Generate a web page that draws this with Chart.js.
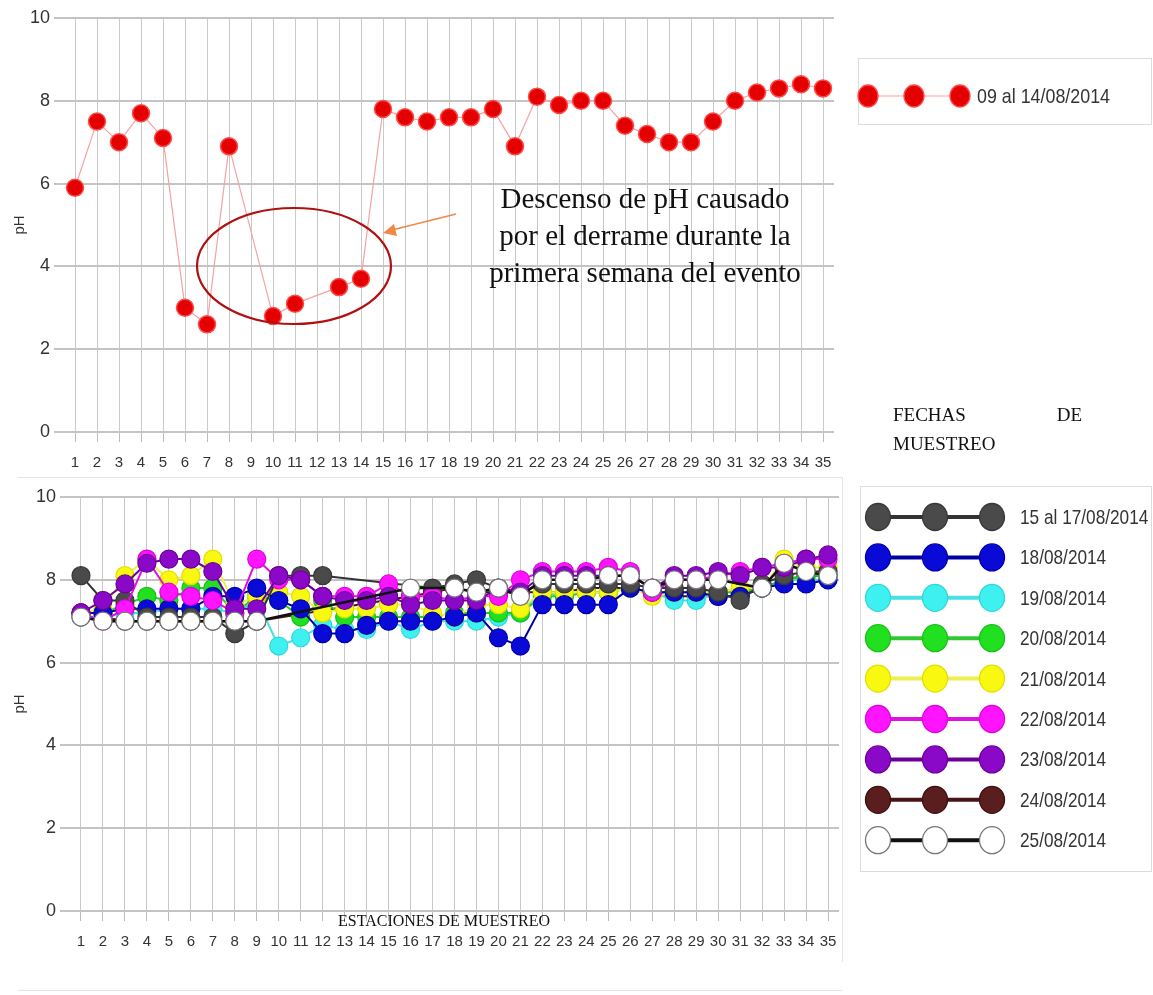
<!DOCTYPE html>
<html>
<head>
<meta charset="utf-8">
<script src="https://cdn.jsdelivr.net/npm/chart.js@4"></script>
<style>
body{margin:0;background:#fff;width:1153px;height:995px;position:relative;overflow:hidden;font-family:'Liberation Sans',Arial,sans-serif;}
canvas{position:absolute;}
.serif{position:absolute;font-family:'Liberation Serif','Times New Roman',serif;color:#111;}
.box{position:absolute;border:1px solid #dcdcdc;}
.legrow{position:absolute;font-size:21px;line-height:26px;color:#333;white-space:nowrap;transform:scaleX(0.83);transform-origin:0 50%;}
.rule{position:absolute;background:#e4e4e4;}
</style>
</head>
<body>
<div class="rule" style="left:18px;top:477px;width:824px;height:1px"></div>
<div class="rule" style="left:842px;top:477px;width:1px;height:485px"></div>
<div class="rule" style="left:18px;top:990px;width:824px;height:1px"></div>

<canvas id="top" width="845" height="475" style="left:0;top:0"></canvas>
<canvas id="bottom" width="850" height="481" style="left:0;top:470px"></canvas>

<div class="box" style="left:858px;top:58px;width:292px;height:65px"></div>
<div class="box" style="left:860px;top:486px;width:290px;height:384px"></div>
<svg id="legends" width="1153" height="995" style="position:absolute;left:0;top:0"></svg>

<div class="serif" style="left:470px;top:180px;width:350px;text-align:center;font-size:29px;line-height:37px">Descenso de pH causado<br>por el derrame durante la<br>primera semana del evento</div>
<div class="serif" style="left:893px;top:400px;width:189px;text-align:justify;font-size:19px;line-height:29px">FECHAS DE MUESTREO</div>
<div class="serif" style="left:338px;top:913px;font-size:16px;line-height:16px;white-space:nowrap">ESTACIONES DE MUESTREO</div>

<svg width="1153" height="995" style="position:absolute;left:0;top:0;pointer-events:none">
  <ellipse cx="294" cy="266" rx="97" ry="58" fill="none" stroke="#b01010" stroke-width="2.2"/>
  <line x1="456" y1="214" x2="392" y2="230" stroke="#f0884a" stroke-width="1.6"/>
  <polygon points="383,233 397,236 394,224" fill="#f0884a"/>
</svg>

<script>
const stations = ["1","2","3","4","5","6","7","8","9","10","11","12","13","14","15","16","17","18",
  "19","20","21","22","23","24","25","26","27","28","29","30","31","32","33","34","35"];
const yTicks = [0, 2, 4, 6, 8, 10];

// primera semana
const topLabel = "09 al 14/08/2014";
const phTop = [5.9, 7.5, 7.0, 7.7, 7.1, 3.0, 2.6, 6.9, null, 2.8, 3.1, null, 3.5, 3.7, 7.8, 7.6, 7.5,
  7.6, 7.6, 7.8, 6.9, 8.1, 7.9, 8.0, 8.0, 7.4, 7.2, 7.0, 7.0, 7.5, 8.0, 8.2, 8.3, 8.4, 8.3];

// fechas siguientes
const dates = ["15 al 17/08/2014", "18/08/2014", "19/08/2014", "20/08/2014", "21/08/2014",
  "22/08/2014", "23/08/2014", "24/08/2014", "25/08/2014"];
const ph15al17 = [8.1, 7.5, 7.5, 7.1, 7.1, 7.1, 7.1, 6.7, 7.0, 8.1, 8.1, 8.1, null, null, null, null, 7.8,
  7.9, 8.0, 7.8, 7.7, 7.9, 7.9, 7.9, 7.9, 7.9, 7.8, 7.8, 7.8, 7.7, 7.5, 7.9, 8.1, 8.2, 8.2];
const ph18 = [7.2, 7.2, 7.3, 7.3, 7.3, 7.3, 7.6, 7.6, 7.8, 7.5, 7.3, 6.7, 6.7, 6.9, 7.0, 7.0, 7.0,
  7.1, 7.2, 6.6, 6.4, 7.4, 7.4, 7.4, 7.4, 7.8, 7.7, 7.7, 7.7, 7.6, 7.6, 7.8, 7.9, 7.9, 8.0];
const ph19 = [7.1, 7.1, 7.2, 7.2, 7.3, 7.3, 7.3, 7.2, 7.5, 6.4, 6.6, 6.9, 6.8, 6.8, 7.0, 6.8, 7.0,
  7.0, 7.0, 7.1, 7.2, 7.7, 7.6, 7.7, 7.7, 7.8, 7.7, 7.5, 7.5, 7.7, 7.7, 7.8, 8.0, 8.0, 8.0];
const ph20 = [7.2, 7.2, 7.4, 7.6, 7.5, 7.8, 7.8, 7.2, 7.6, 7.5, 7.1, 7.5, 7.1, 7.1, 7.1, 7.1, 7.1,
  7.2, 7.2, 7.2, 7.2, 7.6, 7.6, 7.7, 7.7, 7.8, 7.7, 7.7, 7.7, 7.7, 7.7, 7.8, 8.0, 8.1, 8.1];
const ph21 = [7.2, 7.3, 8.1, 8.5, 8.0, 8.1, 8.5, 7.4, 7.6, 7.7, 7.6, 7.2, 7.3, 7.3, 7.4, 7.4, 7.2,
  7.1, 7.4, 7.4, 7.3, 7.7, 7.7, 7.7, 7.7, 7.8, 7.6, 7.7, 7.7, 7.7, 7.8, 7.8, 8.5, 8.3, 8.3];
const ph22 = [7.2, 7.0, 7.3, 8.5, 7.7, 7.6, 7.5, 7.2, 8.5, 8.0, 8.0, 7.6, 7.6, 7.6, 7.9, 7.6, 7.6,
  7.5, 7.6, 7.6, 8.0, 8.2, 8.2, 8.2, 8.3, 8.2, 7.7, 8.0, 8.0, 8.1, 8.2, 8.3, 8.4, 8.5, 8.5];
const ph23 = [7.2, 7.5, 7.9, 8.4, 8.5, 8.5, 8.2, 7.3, 7.3, 8.1, 8.0, 7.6, 7.5, 7.5, 7.6, 7.4, 7.5,
  7.5, 7.5, 7.8, 7.7, 8.1, 8.1, 8.1, 8.1, 8.1, 7.8, 8.1, 8.1, 8.2, 8.1, 8.3, 8.3, 8.5, 8.6];
const ph24 = [7.1, 7.1, 7.0, 7.0, 7.0, 7.0, 7.0, 7.0, 7.0, null, null, null, null, null, null, 7.6, 7.7,
  7.8, 7.7, 7.7, 7.7, 7.7, 7.7, 7.8, 7.8, 7.8, 7.7, 7.6, 7.6, 7.6, 7.6, 7.8, 8.0, 8.1, 8.1];
const ph25 = [7.1, 7.0, 7.0, 7.0, 7.0, 7.0, 7.0, 7.0, 7.0, null, null, null, null, null, null, 7.8, null,
  7.8, 7.7, 7.8, 7.6, 8.0, 8.0, 8.0, 8.1, 8.1, 7.8, 8.0, 8.0, 8.0, null, 7.8, 8.4, 8.2, 8.1];
const series = [ph15al17, ph18, ph19, ph20, ph21, ph22, ph23, ph24, ph25];

const fills = ["#4a4a4a", "#0a0ad6", "#3ff0f0", "#20e020", "#f8f810", "#ff14ff", "#8a08c8", "#5a1e1e", "#ffffff"];
const lines = ["#333333", "#0000a0", "#48e0e0", "#30c830", "#eeee50", "#e010e0", "#6a0098", "#4a1414", "#111111"];
const edges = ["#383838", "#0000b0", "#30d8d8", "#18c018", "#e0e000", "#e000e0", "#700098", "#401010", "#777777"];
const drawOrder = [4, 5, 8, 7, 6, 3, 2, 9, 1];

Chart.defaults.font.family = "'Liberation Sans',Arial,sans-serif";
Chart.defaults.color = "#333";

function axes(yWidth, xHeight) {
  return {
    x: {
      type: "category", offset: true,
      grid: { offset: false, color: "#c9c9c9", lineWidth: 1, tickLength: 10, tickColor: "#bdbdbd" },
      border: { display: false },
      ticks: { autoSkip: false, maxRotation: 0, padding: 12, color: "#333", font: { size: 15 } },
      afterFit: s => { s.height = xHeight; }
    },
    y: {
      min: 0, max: 10,
      afterBuildTicks: s => { s.ticks = yTicks.map(v => ({ value: v })); },
      grid: { color: "#c4c4c4", lineWidth: 2, tickLength: 10, tickColor: "#c4c4c4" },
      border: { display: false },
      ticks: { padding: 4, color: "#333", font: { size: 18 } },
      title: { display: true, text: "pH", color: "#333", font: { size: 15 }, padding: { top: 11, bottom: 0 } },
      afterFit: s => { s.width = yWidth; }
    }
  };
}

new Chart(document.getElementById("top"), {
  type: "line",
  data: {
    labels: stations,
    datasets: [{
      label: topLabel, data: phTop, spanGaps: true,
      borderColor: "#f3a3a3", borderWidth: 1.2,
      pointRadius: 8.5, pointBackgroundColor: "#e40000", pointBorderColor: "#ff4a4a", pointBorderWidth: 1.5
    }]
  },
  options: {
    responsive: false, animation: false,
    layout: { padding: { top: 18, right: 11, left: 0, bottom: 0 } },
    plugins: { legend: { display: false }, tooltip: { enabled: false } },
    scales: axes(64, 43)
  }
});

new Chart(document.getElementById("bottom"), {
  type: "line",
  data: {
    labels: stations,
    datasets: series.map((d, i) => ({
      label: dates[i], data: d, spanGaps: true, order: drawOrder[i],
      borderColor: lines[i], borderWidth: i === 8 ? 2.5 : 2,
      pointRadius: 9, pointBackgroundColor: fills[i], pointBorderColor: edges[i], pointBorderWidth: 1.2
    }))
  },
  options: {
    responsive: false, animation: false,
    layout: { padding: { top: 27, right: 11, left: 0, bottom: 0 } },
    plugins: { legend: { display: false }, tooltip: { enabled: false } },
    scales: axes(70, 40)
  }
});

// leyendas (simbolo de linea con tres marcadores)
const svg = document.getElementById("legends");
const NS = "http://www.w3.org/2000/svg";
function el(tag, attrs) {
  const e = document.createElementNS(NS, tag);
  for (const k in attrs) e.setAttribute(k, attrs[k]);
  svg.appendChild(e);
}
function symbol(xs, y, r, fill, line, edge, lw) {
  el("line", { x1: xs[0], y1: y, x2: xs[2], y2: y, stroke: line, "stroke-width": lw });
  xs.forEach(x => el("ellipse", { cx: x, cy: y, rx: r, ry: r + 1, fill: fill, stroke: edge, "stroke-width": 1.3 }));
}
function label(x, y, text, sx) {
  const d = document.createElement("div");
  d.className = "legrow";
  d.style.left = x + "px";
  d.style.top = (y - 13) + "px";
  d.style.transform = "scaleX(" + sx + ")";
  d.textContent = text;
  document.body.appendChild(d);
}
symbol([868, 914, 960], 96, 10, "#e40000", "#f3a3a3", "#ff4a4a", 1.2);
label(977, 96, topLabel, 0.85);
dates.forEach((t, i) => {
  const y = 517 + i * 40.4;
  symbol([878, 935, 992], y, 12.5, fills[i], lines[i], edges[i], 4);
  label(1020, y, t, 0.82);
});
</script>
</body>
</html>
